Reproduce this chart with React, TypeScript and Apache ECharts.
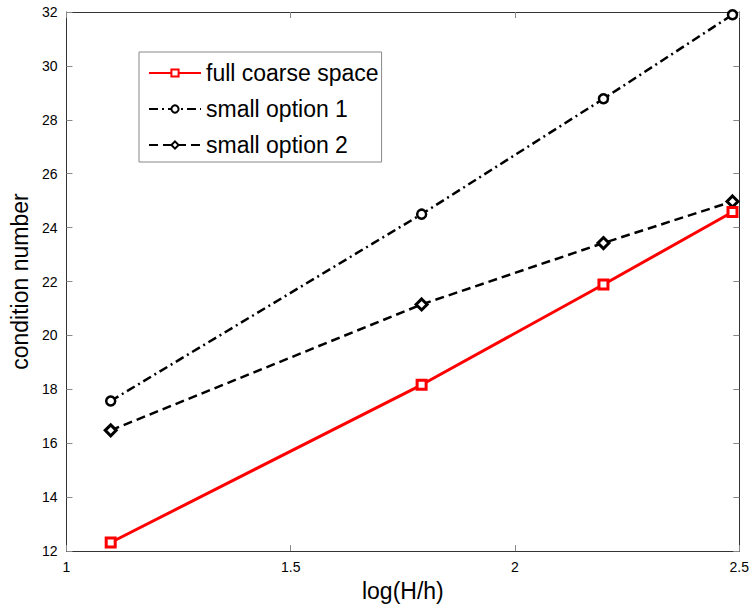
import React, { useEffect, useRef } from "react";
import * as echarts from "echarts";

const xValues = [1.0986, 1.7918, 2.1972, 2.4849];
const fullCoarse = [12.32, 18.17, 21.89, 24.58];
const smallOption1 = [17.57, 24.5, 28.78, 31.9];
const smallOption2 = [16.48, 21.15, 23.43, 24.97];
const seriesNames = ["full coarse space", "small option 1", "small option 2"];
const xTickLabels = ["1", "1.5", "2", "2.5"];

const FONT = "'Liberation Sans', Arial, Helvetica, sans-serif";

export default function App() {
  const ref = useRef<HTMLDivElement>(null);
  useEffect(() => {
    if (!ref.current) return;
    const chart = echarts.init(ref.current, null, { renderer: "svg" });
    const pair = (ys: number[]) => xValues.map((x, i) => [x, ys[i]]);
    const axisLine = { show: true, lineStyle: { color: "#333", width: 1 } };
    const tick = { show: true, inside: true, length: 6, lineStyle: { color: "#888", width: 1 } };
    chart.setOption({
      animation: false,
      backgroundColor: "#fff",
      textStyle: { fontFamily: FONT },
      grid: { left: 60, top: 12, right: 7, bottom: 55, containLabel: false },
      legend: {
        orient: "vertical",
        left: 139,
        top: 52,
        data: seriesNames,
        backgroundColor: "#fff",
        borderColor: "#888",
        borderWidth: 1,
        padding: [9, 3, 5, 9],
        itemWidth: 52,
        itemHeight: 9,
        itemGap: 12,
        textStyle: { fontFamily: FONT, fontSize: 23, color: "#000", lineHeight: 24 },
      },
      xAxis: [
        {
          type: "value",
          min: 1,
          max: 2.5,
          interval: 0.5,
          name: "log(H/h)",
          nameLocation: "middle",
          nameGap: 27,
          nameTextStyle: { fontFamily: FONT, fontSize: 23, color: "#000", verticalAlign: "top" },
          axisLine,
          axisTick: tick,
          splitLine: { show: false },
          axisLabel: {
            color: "#000",
            fontSize: 14,
            fontFamily: FONT,
            margin: 9,
            formatter: (v: number) => {
              const idx = [1, 1.5, 2, 2.5].findIndex((t) => Math.abs(t - v) < 1e-9);
              return idx >= 0 ? xTickLabels[idx] : "";
            },
          },
        },
        {
          type: "value",
          position: "top",
          min: 1,
          max: 2.5,
          interval: 0.5,
          axisLine,
          axisTick: tick,
          axisLabel: { show: false },
          splitLine: { show: false },
        },
      ],
      yAxis: [
        {
          type: "value",
          min: 12,
          max: 32,
          interval: 2,
          name: "condition number",
          nameLocation: "middle",
          nameGap: 24,
          nameRotate: 90,
          nameTextStyle: { fontFamily: FONT, fontSize: 23, color: "#000" },
          axisLine,
          axisTick: tick,
          splitLine: { show: false },
          axisLabel: { color: "#000", fontSize: 14, fontFamily: FONT, margin: 9 },
        },
        {
          type: "value",
          position: "right",
          min: 12,
          max: 32,
          interval: 2,
          axisLine,
          axisTick: tick,
          axisLabel: { show: false },
          splitLine: { show: false },
        },
      ],
      series: [
        {
          name: seriesNames[0],
          type: "line",
          data: pair(fullCoarse),
          symbol: "rect",
          symbolSize: 9,
          lineStyle: { color: "#ff0000", width: 3, type: "solid" },
          itemStyle: { color: "#fff", borderColor: "#ff0000", borderWidth: 3 },
          z: 3,
        },
        {
          name: seriesNames[1],
          type: "line",
          data: pair(smallOption1),
          symbol: "circle",
          symbolSize: 9,
          lineStyle: { color: "#000", width: 2.5, type: [9, 4, 2, 4] },
          itemStyle: { color: "#fff", borderColor: "#000", borderWidth: 2.5 },
          z: 2,
        },
        {
          name: seriesNames[2],
          type: "line",
          data: pair(smallOption2),
          symbol: "diamond",
          symbolSize: 11,
          lineStyle: { color: "#000", width: 2.5, type: [9, 5] },
          itemStyle: { color: "#fff", borderColor: "#000", borderWidth: 3 },
          z: 2,
        },
      ],
    });
    return () => chart.dispose();
  }, []);
  return (
    <div
      ref={ref}
      style={{ position: "fixed", left: 0, top: 0, width: 752, height: 607 }}
    />
  );
}
